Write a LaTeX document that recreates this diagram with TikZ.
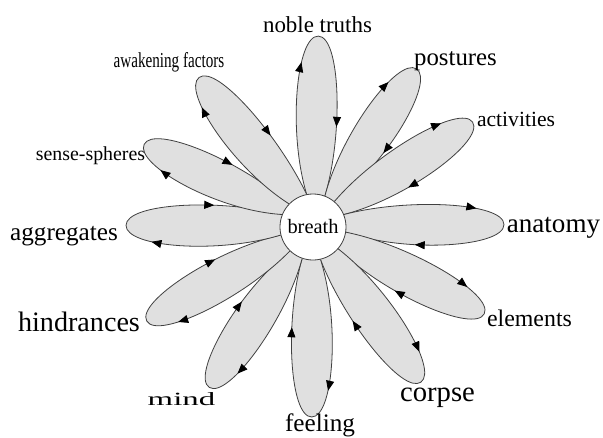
\documentclass[tikz,border=0pt]{standalone}
\usepackage{fontspec}
\setmainfont{Liberation Serif}
\usepackage{graphicx}
\usetikzlibrary{arrows.meta, decorations.markings, backgrounds}

\begin{document}
\begin{tikzpicture}[
    x=0.75pt, y=0.75pt,
    every node/.style={align=center},
    hub/.style={circle, draw=black!75, fill=white, line width=0.6pt, minimum size=49.5pt, inner sep=0pt, font=\fontsize{15.3pt}{16pt}\selectfont},
    topic/.style={anchor=base, inner sep=0pt, font=\fontsize{#1}{#1}\selectfont},
    petal/.style={draw=black!75, fill=black!12, line width=0.6pt, postaction={decorate},
        decoration={markings,
            mark=at position 0.40 with {\arrow{Triangle[length=7.5pt, width=6pt, color=black]}},
            mark=at position 0.79 with {\arrow{Triangle[length=7.5pt, width=6pt, color=black]}}}}
]
\useasboundingbox (-313,-210) rectangle (290,227);

% Centre
\node[hub] (breath) at (0,0) {breath};

% Petals
\begin{scope}[on background layer]
\draw[petal, rotate=88.4] (breath.101) .. controls (95,28) and (191,22) .. (191,0) .. controls (191,-22) and (95,-28) .. (breath.69);
\draw[petal, rotate=56.8] (breath.69) .. controls (95,28) and (189,22) .. (189,0) .. controls (189,-22) and (95,-28) .. (breath.50);
\draw[petal, rotate=33.3] (breath.50) .. controls (95,28) and (191,22) .. (191,0) .. controls (191,-22) and (95,-28) .. (breath.22);
\draw[petal, rotate=0.75] (breath.22) .. controls (95,28) and (191,22) .. (191,0) .. controls (191,-22) and (95,-28) .. (breath.-9);
\draw[petal, rotate=-26.9] (breath.-9) .. controls (95,28) and (192,22) .. (192,0) .. controls (192,-22) and (95,-28) .. (breath.-41);
\draw[petal, rotate=-55.2] (breath.-41) .. controls (95,28) and (189,22) .. (189,0) .. controls (189,-22) and (95,-28) .. (breath.-77);
\draw[petal, rotate=-90.4] (breath.-77) .. controls (95,28) and (190,22) .. (190,0) .. controls (190,-22) and (95,-28) .. (breath.-109);
\draw[petal, rotate=-122.9] (breath.-109) .. controls (95,28) and (191,22) .. (191,0) .. controls (191,-22) and (95,-28) .. (breath.-134);
\draw[petal, rotate=-150.5] (breath.-134) .. controls (95,28) and (191,22) .. (191,0) .. controls (191,-22) and (95,-28) .. (breath.-166);
\draw[petal, rotate=179.5] (breath.194) .. controls (95,28) and (187,22) .. (187,0) .. controls (187,-22) and (95,-28) .. (breath.158);
\draw[petal, rotate=153.9] (breath.158) .. controls (95,28) and (188,22) .. (188,0) .. controls (188,-22) and (95,-28) .. (breath.136);
\draw[petal, rotate=127.3] (breath.136) .. controls (95,28) and (188,22) .. (188,0) .. controls (188,-22) and (95,-28) .. (breath.101);
\end{scope}

% Labels
\node[topic=17.2pt] (noble) at (4.5,195) {noble truths};
\node[topic=18.6pt] (postures) at (142.5,162) {postures};
\node[topic=16.2pt] (activities) at (203,101) {activities};
\node[topic=20.3pt] (anatomy) at (240.5,-5.7) {anatomy};
\node[topic=17.9pt] (elements) at (216.5,-99.7) {elements};
\node[topic=21.5pt] (corpse) at (124.5,-174.7) {corpse};
\node[topic=18.9pt] (feeling) at (7,-204.7) {feeling};
\node[topic=14pt] (mind) at (-131.5,-178) {\scalebox{1.76}[1]{mind}};
\node[topic=21.1pt] (hindrances) at (-234,-104) {hindrances};
\node[topic=18.9pt] (aggregates) at (-249,-13) {aggregates};
\node[topic=14.9pt] (sense) at (-222.5,67) {sense-spheres};
\node[topic=16pt] (awakening) at (-144,160) {\scalebox{0.71}[1]{awakening factors}};

\end{tikzpicture}
\end{document}
